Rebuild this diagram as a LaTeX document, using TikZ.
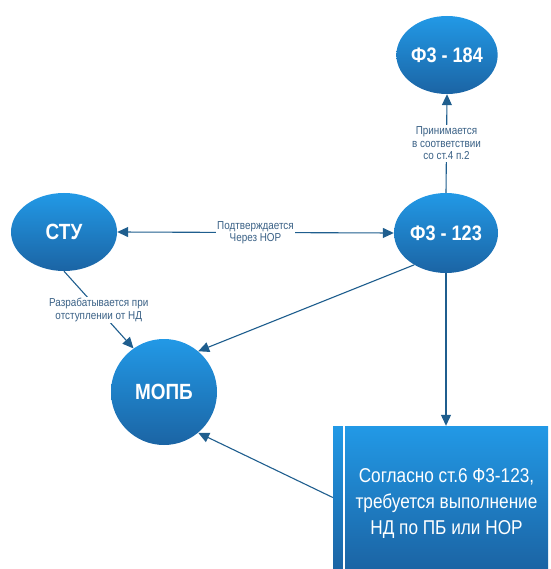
\documentclass[tikz,border=0pt]{standalone}
\usepackage{fontspec}
\setmainfont{Liberation Sans}[FakeStretch=0.86]
\usetikzlibrary{shapes.geometric,arrows.meta}
\definecolor{topblue}{HTML}{2299E6}
\definecolor{botblue}{HTML}{1B64A4}
\definecolor{linkblue}{HTML}{1F5E8E}
\definecolor{labblue}{HTML}{3A6186}
\tikzset{
  bubble/.style={ellipse, inner sep=0pt, top color=topblue, bottom color=botblue,
    draw=none, text=white, font=\fontsize{21}{24}\selectfont\bfseries},
  link/.style={draw=linkblue, line width=1.1pt, -{Triangle[length=11pt,width=10pt]}},
  dlink/.style={draw=linkblue, line width=1.1pt, {Triangle[length=11pt,width=10pt]}-{Triangle[length=11pt,width=10pt]}},
  lab/.style={fill=white, text=labblue, align=center, inner sep=1.5pt,
    font=\fontsize{11.5}{12.5}\selectfont},
}
\begin{document}
\begin{tikzpicture}[x=1pt,y=-1pt]
\useasboundingbox (0,0) rectangle (550,569);
\node[bubble, minimum width=97pt, minimum height=78pt] (f184) at (447,55) {Ф3 - 184};
\node[bubble, minimum width=104pt, minimum height=80pt] (f123) at (446,233) {Ф3 - 123};
\node[bubble, minimum width=106pt, minimum height=78pt, font=\fontsize{22}{24}\selectfont\bfseries] (stu) at (64,232) {СТУ};
\node[bubble, circle, minimum size=106pt, font=\fontsize{22}{24}\selectfont\bfseries] (mopb) at (164,392) {МОПБ};
\node[rectangle, inner sep=0pt, minimum width=215pt, minimum height=143pt,
  top color=topblue, bottom color=botblue, draw=none,
  path picture={\draw[white, line width=1.5pt] ([xshift=11pt]path picture bounding box.north west) -- ([xshift=11pt]path picture bounding box.south west);}]
  (box) at (440.5,497.5) {};
\node[text=white, align=center, font=\fontsize{20}{26}\selectfont] (boxtext) at (446.5,504)
  {Согласно ст.6 Ф3-123,\\требуется выполнение\\НД по ПБ или НОР};

\draw[link] (f123.north) -- node[lab] {Принимается\\в соответствии\\со ст.4 п.2} (f184.south);
\draw[dlink] (stu.east) -- node[lab] {Подтверждается\\Через НОР} (f123.west);
\draw[link] (stu.south) -- node[lab] {Разрабатывается при\\отступлении от НД} (mopb.125);
\draw[link] (f123.225) -- (mopb.50);
\draw[link] (f123.south) -- (f123.south |- box.north);
\draw[link] (box.west) -- (mopb.310);
\end{tikzpicture}
\end{document}
